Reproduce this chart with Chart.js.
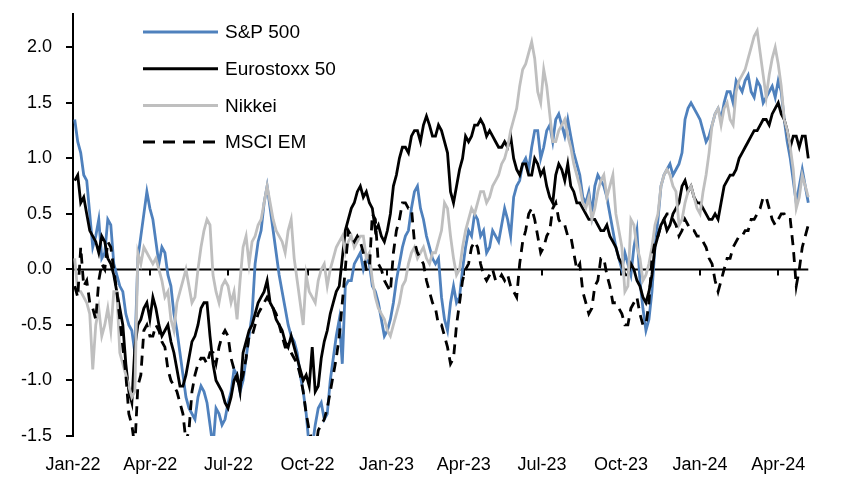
<!DOCTYPE html>
<html>
<head>
<meta charset="utf-8">
<script src="https://cdn.jsdelivr.net/npm/chart.js@4.4.1/dist/chart.umd.min.js"></script>
<style>
  html, body { margin: 0; padding: 0; background: #fff; }
  #wrap { width: 852px; height: 485px; }
</style>
</head>
<body>
<div id="wrap"><canvas id="chart" width="852" height="485"></canvas></div>
<script>
// readings twice a week, first one is Mon 3 Jan 2022 (days counted from 1 Jan 2022)
const firstDay = 2;
const stepDays = 3.5;

// x axis labels, placed on the first day of each quarter
const tickDays = [0, 90, 181, 273, 365, 455, 546, 638, 730, 821];
const tickLabels = ['Jan-22', 'Apr-22', 'Jul-22', 'Oct-22', 'Jan-23', 'Apr-23', 'Jul-23', 'Oct-23', 'Jan-24', 'Apr-24'];

const seriesNames = ['S&P 500', 'Eurostoxx 50', 'Nikkei', 'MSCI EM'];

const spx = [
  1.35, 1.15, 1.05, 0.85, 0.8, 0.5, 0.2, 0.3, 0.45, 0.1,
  0.15, 0.45, 0.4, 0.05, -0.05, -0.15, -0.2, -0.4, -0.5, -0.55,
  -0.75, 0.1, 0.3, 0.5, 0.7, 0.55, 0.45, 0.25, 0.05, 0.2,
  0.15, -0.05, -0.15, -0.4, -0.55, -0.75, -0.95, -1.15, -1.25, -1.3,
  -1.35, -1.15, -1.05, -1.1, -1.2, -1.4, -1.6, -1.25, -1.3, -1.4,
  -1.35, -1.2, -1.1, -0.9, -0.95, -1.1, -1.0, -0.8, -0.6, -0.4,
  0.05, 0.25, 0.35, 0.6, 0.75, 0.55, 0.35, 0.15, -0.05, -0.2,
  -0.35, -0.5, -0.6, -0.65, -0.75, -0.95, -1.1, -1.3, -1.6, -1.6,
  -1.4, -1.25, -1.2, -1.35, -1.3, -1.0, -0.8, -0.6, -0.45, -0.85,
  -0.15, -0.1, -0.1, 0.05, 0.1, 0.15, 0.0, 0.1, 0.05, -0.15,
  -0.2, -0.3, -0.45, -0.6, -0.55, -0.45, -0.3, -0.1, 0.05, 0.2,
  0.3, 0.35, 0.55, 0.7, 0.75, 0.55, 0.45, 0.3, 0.2, 0.1,
  0.05, 0.1, -0.25, -0.45, -0.55, -0.3, -0.15, -0.3, -0.25, 0.0,
  0.2, 0.35, 0.3, 0.5, 0.45, 0.3, 0.35, 0.15, 0.2, 0.35,
  0.3, 0.25, 0.4, 0.55, 0.45, 0.3, 0.65, 0.75, 0.8, 0.95,
  1.0, 0.9, 1.1, 1.25, 1.25, 1.0, 1.1, 1.25, 1.3, 1.15,
  1.35, 1.4, 1.3, 1.2, 1.35, 1.2, 1.05, 0.95, 0.85, 0.65,
  0.6, 0.7, 0.5, 0.75, 0.85, 0.8, 0.75, 0.65, 0.5, 0.35,
  0.2, 0.1, 0.0, 0.15, 0.05, -0.05, 0.2, 0.35, -0.1, -0.35,
  -0.55, -0.45, -0.2, 0.2, 0.45, 0.75, 0.85, 0.9, 0.95, 0.85,
  0.9, 0.95, 1.05, 1.35, 1.45, 1.5, 1.45, 1.4, 1.35, 1.25,
  1.15, 1.2, 1.3, 1.4, 1.45, 1.35, 1.5, 1.6, 1.6, 1.5,
  1.7, 1.65, 1.6, 1.7, 1.75, 1.6, 1.55, 1.7, 1.65, 1.5,
  1.55, 1.6, 1.65, 1.55, 1.7, 1.6, 1.35, 1.15, 1.0, 0.8,
  0.6, 0.75, 0.9, 0.75, 0.6
];

const sx5e = [
  0.8, 0.85, 0.6, 0.65, 0.5, 0.35, 0.3, 0.25, 0.15, 0.3,
  0.25, 0.1, 0.05, -0.05, -0.2, -0.35, -0.5, -0.85, -1.1, -1.2,
  -0.7, -0.5, -0.45, -0.35, -0.3, -0.45, -0.25, -0.35, -0.5, -0.6,
  -0.55, -0.5, -0.65, -0.75, -0.9, -1.05, -1.05, -0.95, -0.8, -0.65,
  -0.6, -0.5, -0.35, -0.3, -0.3, -0.6, -0.85, -1.0, -1.05, -1.1,
  -1.2, -1.25, -1.15, -1.0, -0.95, -1.1, -0.75, -0.65, -0.55, -0.5,
  -0.4, -0.3, -0.25, -0.2, -0.1, -0.3, -0.35, -0.45, -0.5, -0.55,
  -0.65, -0.7, -0.6, -0.7, -0.8, -0.9, -1.0, -0.95, -1.05, -0.7,
  -1.1, -1.05, -0.8, -0.65, -0.55, -0.4, -0.3, -0.2, -0.15, 0.1,
  0.35, 0.45, 0.55, 0.6, 0.7, 0.75, 0.65, 0.7, 0.6, 0.55,
  0.35, 0.4, 0.3, 0.25, 0.35, 0.5, 0.75, 0.85, 1.0, 1.1,
  1.1, 1.05, 1.2, 1.25, 1.25, 1.15, 1.3, 1.38, 1.3, 1.2,
  1.2, 1.3, 1.25, 1.15, 1.05, 0.7, 0.6, 0.75, 0.9, 1.0,
  1.2, 1.15, 1.2, 1.3, 1.3, 1.35, 1.3, 1.2, 1.25, 1.2,
  1.15, 1.1, 1.1, 1.15, 1.1, 1.2, 1.0, 0.9, 0.85, 0.95,
  0.95, 0.85, 0.85, 1.0, 0.95, 0.85, 0.9, 0.75, 0.65, 0.6,
  0.85, 0.95, 0.9, 0.8, 0.95, 0.75, 0.7, 0.6, 0.6, 0.55,
  0.5, 0.45, 0.45, 0.45, 0.4, 0.35, 0.35, 0.4, 0.3, 0.25,
  0.2, 0.1, 0.05, -0.05, -0.05, 0.05, 0.0, -0.1, -0.15, -0.25,
  -0.3, -0.2, -0.05, 0.2, 0.3, 0.4, 0.45, 0.35, 0.4, 0.5,
  0.55, 0.6, 0.75, 0.8, 0.7, 0.75, 0.65, 0.6, 0.6, 0.55,
  0.5, 0.45, 0.45, 0.5, 0.45, 0.6, 0.75, 0.8, 0.85, 0.85,
  0.9, 1.0, 1.05, 1.1, 1.15, 1.2, 1.25, 1.25, 1.3, 1.35,
  1.35, 1.3, 1.4, 1.45, 1.5, 1.4, 1.35, 1.25, 1.1, 1.2,
  1.2, 1.1, 1.2, 1.2, 1.0
];

const nikkei = [
  0.1, -0.2, -0.2, -0.25, -0.3, -0.4, -0.9, -0.5, -0.35, -0.6,
  -0.5, -0.35, -0.55, -0.2, -0.2, -0.75, -0.85, -0.95, -1.05, -1.15,
  -1.1, 0.15, 0.05, 0.2, 0.15, 0.1, 0.05, 0.1, 0.0, -0.1,
  -0.25, -0.2, -0.45, -0.55, -0.3, -0.2, -0.1, 0.0, -0.15, -0.3,
  -0.25, 0.0, 0.2, 0.35, 0.45, 0.4, -0.05, -0.2, -0.3, -0.15,
  -0.1, -0.15, -0.3, -0.2, -0.45, -0.1, 0.2, 0.3, 0.05, 0.25,
  0.3, 0.4, 0.45, 0.6, 0.75, 0.6, 0.45, 0.35, 0.3, 0.25,
  0.15, 0.35, 0.45, 0.1, -0.1, -0.3, -0.5, -0.05, -0.2, -0.25,
  -0.3, -0.1, 0.0, 0.05, -0.15, 0.0, 0.1, 0.2, 0.25, 0.3,
  0.15, 0.25, 0.3, 0.2, 0.25, 0.3, 0.3, 0.1, 0.15, -0.1,
  -0.25, -0.35, -0.4, -0.45, -0.55, -0.6, -0.5, -0.4, -0.3, -0.15,
  -0.1, 0.05, 0.15, 0.2, 0.1, 0.15, 0.2, 0.1, 0.05, 0.15,
  0.15, 0.25, 0.35, 0.6, 0.55, 0.3, 0.1, -0.05, 0.0, 0.2,
  0.35, 0.45, 0.55, 0.5, 0.6, 0.7, 0.7, 0.6, 0.65, 0.75,
  0.8, 0.85, 0.95, 1.0, 1.1, 1.25, 1.35, 1.45, 1.65, 1.8,
  1.85, 1.95, 2.05, 1.9, 1.6, 1.5, 1.8, 1.65, 1.4, 1.15,
  1.15, 1.25, 1.3, 1.35, 1.2, 1.1, 0.95, 0.85, 0.75, 0.6,
  0.55, 0.65, 0.45, 0.55, 0.7, 0.8, 0.85, 0.65, 0.75, 0.85,
  0.5, 0.35, 0.2, -0.2, -0.15, 0.45, 0.4, 0.2, 0.1, -0.1,
  -0.05, 0.05, 0.2, 0.4, 0.5, 0.75, 0.85, 0.9, 0.85, 0.75,
  0.7, 0.4, 0.45, 0.6, 0.7, 0.75, 0.65, 0.55, 0.5, 0.7,
  0.85, 1.05, 1.3, 1.4, 1.45, 1.3, 1.45, 1.5, 1.35, 1.3,
  1.6, 1.7, 1.75, 1.8, 1.9, 2.0, 2.1, 2.15, 1.95, 1.75,
  1.55, 1.75, 1.9, 2.0, 1.85, 1.65, 1.35, 1.25, 1.1, 0.9,
  0.55, 0.65, 0.85, 0.75, 0.65
];

const msciEm = [
  -0.15, -0.25, 0.2, -0.15, -0.1, -0.3, -0.35, -0.45, -0.1, 0.05,
  0.0, 0.25, 0.2, 0.0, -0.2, -0.45, -0.7, -0.95, -1.3, -1.4,
  -1.6, -1.05, -0.95, -0.55, -0.5, -0.6, -0.6, -0.5, -0.55, -0.65,
  -0.7, -0.9, -1.0, -1.05, -1.1, -1.2, -1.3, -1.55, -1.45, -1.1,
  -0.95, -0.85, -0.8, -0.8, -0.85, -0.75, -0.75, -0.85, -0.7, -0.6,
  -0.55, -0.6, -0.8, -0.9, -1.0, -1.05, -0.95, -0.8, -0.6, -0.6,
  -0.5, -0.4, -0.35, -0.3, -0.25, -0.3, -0.35, -0.4, -0.5, -0.6,
  -0.7, -0.7, -0.75, -0.8, -0.85, -0.95, -1.1, -1.3, -1.45, -1.55,
  -1.65, -1.45, -1.4, -1.35, -1.25, -1.1, -0.95, -0.8, -0.6, -0.3,
  0.0, 0.35, 0.3, 0.25, 0.3, 0.25, 0.15, 0.0, 0.0, 0.5,
  0.45, 0.05, 0.0, -0.1, -0.15, -0.2, 0.15, 0.35, 0.45, 0.6,
  0.6, 0.55, 0.55, 0.25, 0.15, 0.1, 0.05, -0.1, -0.2, -0.3,
  -0.35, -0.5, -0.5, -0.6, -0.7, -0.85, -0.8, -0.5, -0.3, -0.1,
  0.0, 0.05, 0.2, 0.25, 0.2, 0.05, -0.05, -0.1, -0.05, 0.0,
  -0.1, -0.1, -0.05, -0.1, -0.05, -0.15, -0.2, -0.25, 0.05, 0.25,
  0.35, 0.5, 0.55, 0.45, 0.3, 0.15, 0.2, 0.3, 0.35, 0.55,
  0.6, 0.45, 0.4, 0.4, 0.3, 0.3, 0.15, 0.0, 0.05, -0.2,
  -0.3, -0.4, -0.35, -0.15, -0.1, 0.1, 0.1, -0.05, -0.15, -0.3,
  -0.3, -0.35, -0.4, -0.5, -0.5, -0.35, -0.3, -0.25, -0.4, -0.5,
  -0.5, -0.3, 0.1, 0.25, 0.3, 0.4, 0.45, 0.5, 0.5, 0.45,
  0.4, 0.3, 0.35, 0.45, 0.4, 0.35, 0.35, 0.3, 0.3, 0.25,
  0.2, 0.1, 0.05, -0.1, -0.2, -0.1, 0.0, 0.1, 0.1, 0.2,
  0.25, 0.3, 0.3, 0.35, 0.35, 0.45, 0.45, 0.5, 0.55, 0.65,
  0.65, 0.55, 0.45, 0.4, 0.45, 0.5, 0.5, 0.45, 0.45, 0.2,
  -0.15, 0.0, 0.2, 0.3, 0.4
];

const BLUE = '#4F81BD';
const GREY = '#BFBFBF';
const BLACK = '#000000';
const FONT = '"Liberation Sans", Arial, sans-serif';

function toPoints(vals) {
  return vals.map((v, i) => ({ x: firstDay + i * stepDays, y: v }));
}

// zero line with small quarter ticks, drawn under the series
const zeroLine = {
  id: 'zeroLine',
  beforeDatasetsDraw(chart) {
    const { ctx, chartArea, scales } = chart;
    const y0 = scales.y.getPixelForValue(0);
    ctx.save();
    ctx.strokeStyle = BLACK;
    ctx.lineWidth = 2;
    ctx.beginPath();
    ctx.moveTo(chartArea.left, y0);
    ctx.lineTo(scales.x.getPixelForValue(firstDay + (spx.length - 1) * stepDays), y0);
    ctx.stroke();
    ctx.beginPath();
    tickDays.forEach(d => {
      const x = Math.round(scales.x.getPixelForValue(d));
      ctx.moveTo(x, y0);
      ctx.lineTo(x, y0 + 6);
    });
    ctx.stroke();
    ctx.restore();
  }
};

// legend sits inside the plot, top left
const insideLegend = {
  id: 'insideLegend',
  afterDraw(chart) {
    const ctx = chart.ctx;
    const x0 = 143, len = 75, top = 32, gap = 36.7;
    ctx.save();
    ctx.font = '19px ' + FONT;
    ctx.textBaseline = 'middle';
    chart.data.datasets.forEach((ds, i) => {
      const y = top + i * gap;
      ctx.strokeStyle = ds.borderColor;
      ctx.lineWidth = 3;
      ctx.setLineDash(ds.borderDash ? [12, 8] : []);
      ctx.beginPath();
      ctx.moveTo(x0, y);
      ctx.lineTo(x0 + len, y);
      ctx.stroke();
      ctx.setLineDash([]);
      ctx.fillStyle = BLACK;
      ctx.fillText(ds.label, x0 + len + 7, y + 1);
    });
    ctx.restore();
  }
};

new Chart(document.getElementById('chart'), {
  type: 'line',
  data: {
    datasets: [
      { label: seriesNames[0], data: toPoints(spx), borderColor: BLUE, order: 4 },
      { label: seriesNames[1], data: toPoints(sx5e), borderColor: BLACK, order: 3 },
      { label: seriesNames[2], data: toPoints(nikkei), borderColor: GREY, order: 2 },
      { label: seriesNames[3], data: toPoints(msciEm), borderColor: BLACK, borderDash: [10, 7], order: 1 }
    ]
  },
  options: {
    responsive: false,
    animation: false,
    devicePixelRatio: 1,
    layout: { padding: { left: 0, right: 42, top: 14, bottom: 0 } },
    elements: {
      line: { borderWidth: 2.8, tension: 0 },
      point: { radius: 0 }
    },
    plugins: {
      legend: { display: false },
      tooltip: { enabled: false }
    },
    scales: {
      x: {
        type: 'linear',
        min: 0,
        max: 858,
        afterBuildTicks: scale => {
          scale.ticks = tickDays.map(d => ({ value: d }));
        },
        afterFit: scale => {
          scale.height = 49;
          scale.paddingLeft = 0;
          scale.paddingRight = 0;
        },
        grid: { display: false, drawTicks: false },
        border: { display: false },
        ticks: {
          autoSkip: false,
          maxRotation: 0,
          padding: 18,
          color: BLACK,
          font: { family: FONT, size: 18 },
          callback: v => tickLabels[tickDays.indexOf(v)]
        }
      },
      y: {
        min: -1.5,
        max: 2.3,
        afterBuildTicks: scale => {
          scale.ticks = scale.ticks.filter(t => t.value <= 2.0001);
        },
        afterFit: scale => {
          scale.width = 73;
          scale.paddingTop = 0;
          scale.paddingBottom = 0;
        },
        grid: { drawOnChartArea: false, drawTicks: true, tickLength: 7, color: BLACK, lineWidth: 2 },
        border: { display: true, color: BLACK, width: 2 },
        ticks: {
          stepSize: 0.5,
          padding: 14,
          color: BLACK,
          font: { family: FONT, size: 18 },
          callback: v => v.toFixed(1)
        }
      }
    }
  },
  plugins: [zeroLine, insideLegend]
});
</script>
</body>
</html>
